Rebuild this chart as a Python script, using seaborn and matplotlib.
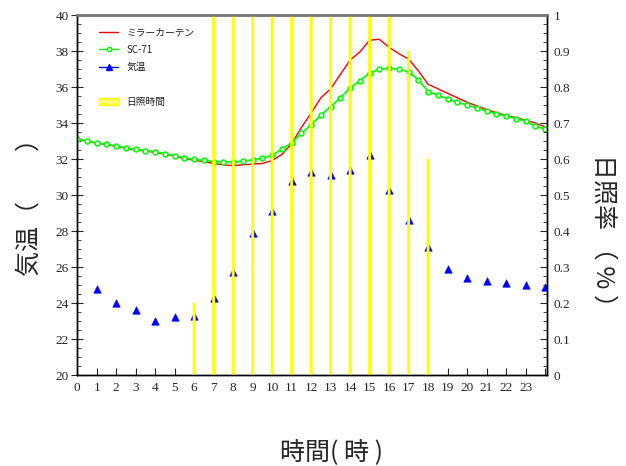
import numpy as np
import pandas as pd
import matplotlib
matplotlib.use("Agg")
import matplotlib.pyplot as plt
import seaborn as sns
from matplotlib.lines import Line2D
from matplotlib.patches import Patch
from matplotlib.ticker import MultipleLocator, FixedLocator

# ---------------- data ----------------
half_hours = [i * 0.5 for i in range(49)]  # 0.0 .. 24.0

mirror_curtain = [33.10, 32.98, 32.88, 32.80, 32.70, 32.60, 32.50, 32.44, 32.37, 32.27,
                  32.15, 32.02, 31.93, 31.85, 31.75, 31.68, 31.63, 31.68, 31.72, 31.75,
                  31.92, 32.25, 32.85, 33.75, 34.55, 35.40, 35.90, 36.70, 37.50, 37.95,
                  38.60, 38.65, 38.20, 37.85, 37.55, 36.90, 36.15, 35.90, 35.65, 35.40,
                  35.15, 34.95, 34.75, 34.57, 34.42, 34.30, 34.15, 34.00, 33.78]

sc71 = [33.12, 33.00, 32.90, 32.82, 32.72, 32.62, 32.53, 32.47, 32.40, 32.30,
        32.19, 32.06, 31.98, 31.92, 31.86, 31.84, 31.84, 31.88, 31.95, 32.05,
        32.20, 32.55, 32.90, 33.42, 33.90, 34.45, 34.90, 35.40, 35.95, 36.35,
        36.78, 36.98, 37.05, 36.98, 36.85, 36.40, 35.75, 35.55, 35.35, 35.15,
        35.00, 34.82, 34.65, 34.52, 34.38, 34.25, 34.10, 33.82, 33.67]

temp_hours = list(range(1, 25))
air_temp = [24.8, 24.0, 23.6, 23.0, 23.2, 23.3, 24.3, 25.7, 27.9, 29.1, 30.8, 31.3,
            31.1, 31.4, 32.2, 30.3, 28.6, 27.1, 25.9, 25.4, 25.2, 25.1, 25.0, 24.9]

sun_hours = list(range(6, 19))
sun_ratio = [0.2, 1, 1, 1, 1, 1, 1, 1, 1, 1, 1, 0.9, 0.6]

xtick_labels = [str(i) for i in range(24)] + [""]

legend_labels = ["ミラーカーテン", "SC-71", "気温", "日照時間"]

# ---------------- figure ----------------
sns.set_style("ticks")
plt.rcParams['font.family'] = ['Noto Sans CJK JP', 'DejaVu Sans']

fig = plt.figure(figsize=(6.26, 4.66), dpi=100)
ax = fig.add_axes([77.2 / 626, 1 - 375 / 466, (547 - 77.2) / 626, (375 - 15) / 466])

df_curves = pd.DataFrame({"h": half_hours, "mc": mirror_curtain, "sc": sc71})
df_temp = pd.DataFrame({"h": temp_hours, "t": air_temp})
df_sun = pd.DataFrame({"h": sun_hours, "r": sun_ratio})

sns.lineplot(data=df_curves, x="h", y="mc", ax=ax, color="#ff0000", lw=1.0)
sns.lineplot(data=df_curves, x="h", y="sc", ax=ax, color="#00ff00", lw=1.2,
             marker="o", markersize=3.5, markerfacecolor="white",
             markeredgecolor="#00ff00", markeredgewidth=1.1)
sns.scatterplot(data=df_temp, x="h", y="t", ax=ax, marker="^", color="#0000ff",
                edgecolor="#0000ff", s=28, linewidth=0.5, zorder=3)

ax.set_xlim(0, 24.1)
ax.set_ylim(20, 40)
ax.set_xlabel("")
ax.set_ylabel("")

ax2 = ax.twinx()
sns.barplot(data=df_sun, x="h", y="r", ax=ax2, native_scale=True, width=0.15,
            color="#ffff00", saturation=1, linewidth=0)
for p in ax2.patches:
    p.set_snap(False)
ax2.set_ylim(0, 1)
ax2.set_xlim(0, 24.1)
ax2.set_ylabel("")
ax2.set_xlabel("")

# ticks
serif = "Liberation Serif"
ax.xaxis.set_major_locator(FixedLocator(list(range(25))))
ax.set_xticklabels(xtick_labels, fontfamily=serif, fontsize=9.5)
ax.yaxis.set_major_locator(MultipleLocator(2))
ax.yaxis.set_minor_locator(MultipleLocator(0.5))
for lab in ax.get_yticklabels():
    lab.set_fontfamily(serif)
    lab.set_fontsize(9.5)
ax.tick_params(axis="x", direction="in", length=5, width=0.8, top=False, pad=5)
ax.tick_params(axis="y", which="major", direction="inout", length=8, width=0.8, pad=2)
ax.tick_params(axis="y", which="minor", direction="in", length=3, width=0.6)

ax2.yaxis.set_minor_locator(MultipleLocator(0.025))
ax2.set_yticks([i / 10 for i in range(11)])
ax2.set_yticklabels(["0", "0.1", "0.2", "0.3", "0.4", "0.5", "0.6", "0.7", "0.8", "0.9", "1"],
                    fontfamily=serif, fontsize=9.5)
ax2.tick_params(axis="y", which="major", direction="in", length=5, width=0.8, pad=5)
ax2.tick_params(axis="y", which="minor", direction="in", length=3, width=0.6)

for a in (ax, ax2):
    for s in ("left", "right", "bottom"):
        a.spines[s].set_color("black")
        a.spines[s].set_linewidth(1.0)
    a.spines["top"].set_color("#777777")
    a.spines["top"].set_linewidth(1.8)

# legend
handles = [
    Line2D([], [], color="#ff0000", lw=1.0),
    Line2D([], [], color="#00ff00", lw=1.0, marker="o", markersize=3,
           markerfacecolor="white", markeredgecolor="#00ff00"),
    Line2D([], [], color="#0000ff", lw=1.0, marker="^", markersize=5),
    Line2D([], [], color="none"),
    Patch(facecolor="#ffff88", edgecolor="#ffff00", hatch="....", lw=1.0),
]
labels = [legend_labels[0], legend_labels[1], legend_labels[2], "", legend_labels[3]]
leg = ax2.legend(handles, labels, loc="upper left", bbox_to_anchor=(0.047, 0.965),
                 frameon=False, fontsize=7, handlelength=1.9, handletextpad=0.9,
                 labelspacing=0.75, borderpad=0, borderaxespad=0)
for t in leg.get_texts():
    t.set_color("#222222")

# axis titles
fig.text(30 / 626, 1 - 201 / 466, "気温（　　）", rotation=90, ha="center", va="center",
         fontsize=18)
fig.text(603 / 626, 1 - 236 / 466, "日照率 （ % ）", rotation=270, ha="center", va="center",
         fontsize=18)
fig.text(331 / 626, 1 - 452 / 466, "時間( 時 )", ha="center", va="center", fontsize=18)

fig.savefig("out.png", dpi=100)
